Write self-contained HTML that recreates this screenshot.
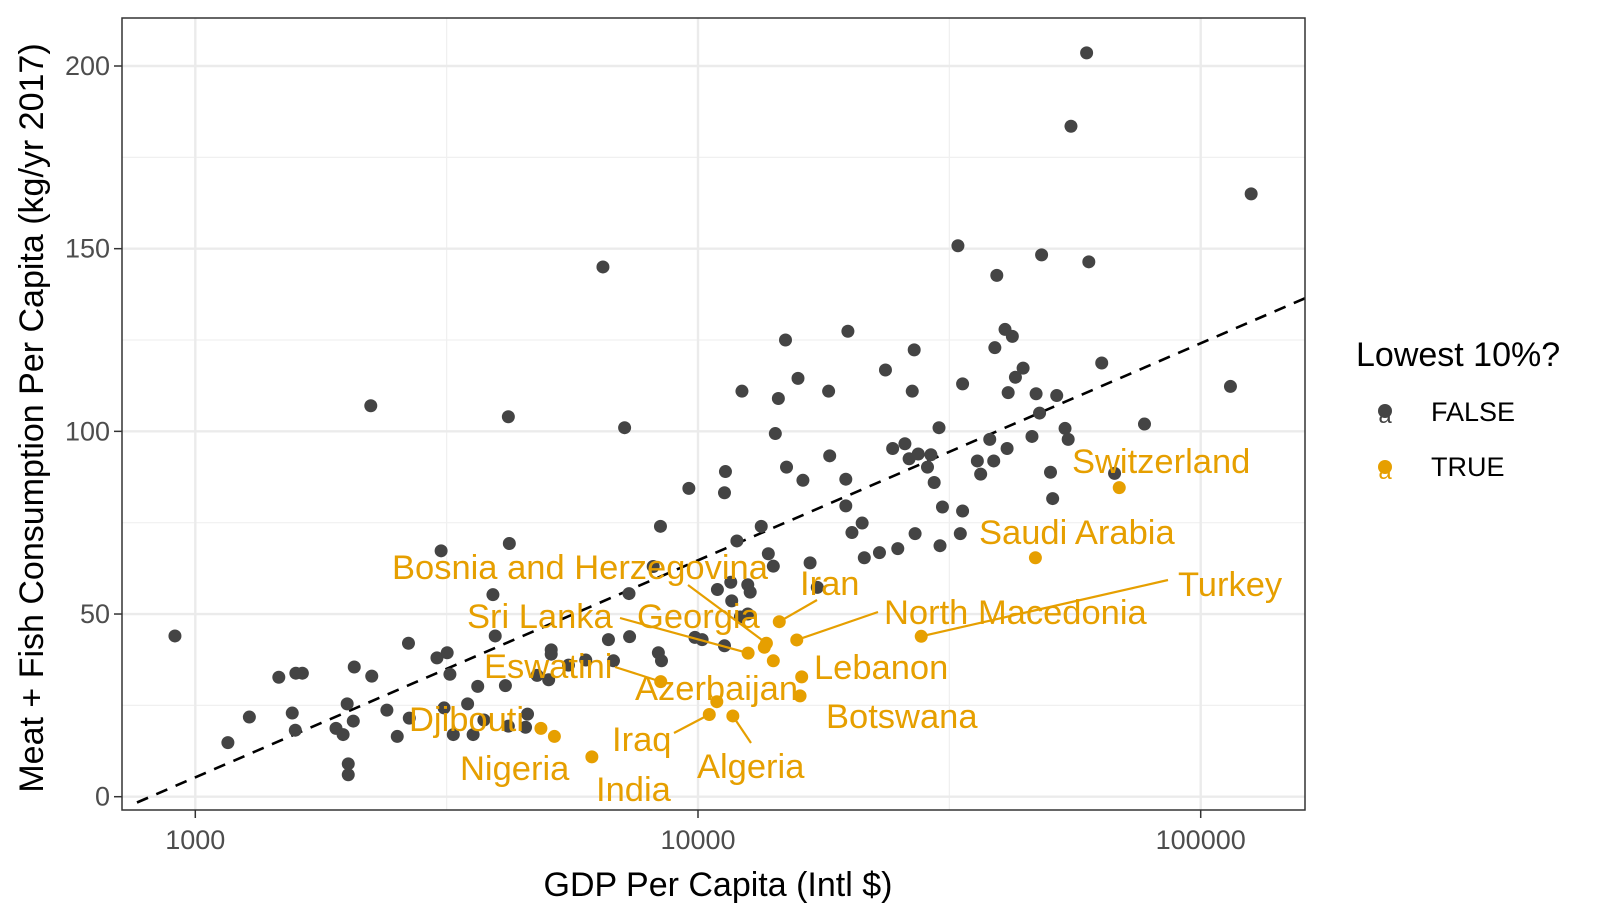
<!DOCTYPE html>
<html><head><meta charset="utf-8"><style>
body{margin:0;background:#fff;width:1600px;height:914px;overflow:hidden;font-family:"Liberation Sans",sans-serif}
</style></head><body>
<svg id="chart" width="1600" height="914" style="font-family:'Liberation Sans',sans-serif">
<rect x="0" y="0" width="1600" height="914" fill="#fff"/>
<g id="grid"></g><g id="marks"></g><g id="labels"></g>
<rect x="122" y="18" width="1183" height="792" fill="none" stroke="#333" stroke-width="1.5"/>
<g id="axes"></g>
<text x="718" y="896" text-anchor="middle" font-size="34" fill="#000">GDP Per Capita (Intl $)</text>
<text transform="translate(43,418) rotate(-90)" text-anchor="middle" font-size="34" fill="#000">Meat + Fish Consumption Per Capita (kg/yr 2017)</text>
<g>
<text x="1356" y="366" font-size="34" fill="#000">Lowest 10%?</text>
<g>
<text x="1385" y="423" font-size="24" fill="#444" text-anchor="middle">a</text>
<circle cx="1385" cy="411" r="7" fill="#444"/>
<text x="1431" y="421" font-size="27" fill="#000">FALSE</text></g>
<g>
<text x="1385" y="479" font-size="24" fill="#E69F00" text-anchor="middle">a</text>
<circle cx="1385" cy="467" r="7" fill="#E69F00"/>
<text x="1431" y="476" font-size="27" fill="#000">TRUE</text></g>
</g>
</svg>
<script>
const grayGdp=[911,1161,1281,1466,1559,1581,1585,1633,1905,1968,2015,2015,2005,2062,2071,2244,2234,2405,2522,2655,2665,3083,3025,3170,3125,3210,3260,3481,3570,3646,3750,3909,3950,4139,4195,4214,4195,4539,4580,4785,5105,5105,5046,5525,5980,6470,6635,6790,7145,7290,7310,8145,8340,8420,8460,9590,9860,10190,10930,11340,11290,11290,11670,11620,11950,12230,12140,12560,12560,12700,13360,13800,14120,14250,14450,14930,15000,15810,16170,16710,17270,18190,18280,19680,19870,19680,20240,21210,21420,22960,23600,24390,24970,25800,26300,26920,26680,27030,27420,28610,29060,29500,30160,30300,30640,32890,33250,33600,33600,35950,36500,38050,38750,38950,39300,40810,41200,41400,42200,42800,44330,46170,47050,47800,48250,50260,50760,51710,53720,54500,55200,59300,59900,63550,67400,77300,114600,126000];
const grayMeat=[44,14.8,21.8,32.7,22.9,18.2,33.8,33.8,18.7,17,9,6,25.4,20.7,35.5,33,107,23.7,16.5,42,21.5,67.3,38,39.4,24.3,33.5,17,25.4,17,30.2,21,55.3,44,30.4,104,69.3,19.3,19,22.6,33.2,40.2,39,32,36,37.4,145,43,37.2,101,55.6,43.8,63,39.4,74,37.2,84.4,43.6,43,56.7,89,83.2,41.3,53.6,58.7,70,111,49.2,50,58,56,74,66.5,63.1,99.4,109,125,90.2,114.5,86.6,64,57.3,111,93.3,86.9,127.4,79.6,72.3,74.9,65.4,66.8,116.8,95.3,67.9,96.6,92.5,122.3,111,72,93.8,90.2,93.6,86,101,68.7,79.3,150.8,72,113,78.2,91.9,88.3,97.8,91.9,122.9,142.7,127.9,95.3,110.6,126,114.8,117.3,98.6,110.3,105,148.3,88.8,81.6,109.8,100.8,97.8,183.5,203.6,146.4,118.7,88.5,102,112.3,165];
const lowNames=["Switzerland","Saudi Arabia","Turkey","North Macedonia","Iran","Lebanon","Botswana","Bosnia and Herzegovina","","Georgia","Sri Lanka","Eswatini","Azerbaijan","Iraq","Algeria","Djibouti","Nigeria","India"];
const lowGdp=[68860,46900,27800,15720,14510,16080,15960,13680,13550,14120,12580,8430,10900,10530,11730,4870,5180,6150];
const lowMeat=[84.6,65.4,43.9,42.9,47.9,32.8,27.6,42,40.9,37.2,39.3,31.5,26,22.5,22.1,18.7,16.5,10.9];
const fitIntercept=-172.9, fitSlope=59.4;
const xTicks=[1000,10000,100000];
const yTicks=[0,50,100,150,200];
// label layout (pixel placement of text, not data): [textX, textY(baseline), lineStartX, lineStartY or null]
const labelLayout=[[1072,473,null,null],[979,544,null,null],[1178,596,1168,580],[884,624,878,612],[800,595,817,600],[814,679,null,null],[826,728,null,null],[392,579,688,585],[0,0,null,null],[637,628,null,null],[467,628,620,618],[484,678,615,667],[635,700,null,null],[612,751,674,733],[697,778,751,743],[409,731,null,null],[460,780,null,null],[596,801,null,null]];

const X0=195.3, DEC=502.7, Y0=796.7, YU=3.6535, L=122, R=1305, T=18, B=810;
const xs=g=>X0+(Math.log10(g)-3)*DEC;
const ys=v=>Y0-v*YU;
const NS="http://www.w3.org/2000/svg";
function mk(tag,attrs,parent){const e=document.createElementNS(NS,tag);for(const k in attrs)e.setAttribute(k,attrs[k]);parent.appendChild(e);return e;}
const grid=document.getElementById('grid'),marks=document.getElementById('marks'),labels=document.getElementById('labels'),axes=document.getElementById('axes');
mk('rect',{x:L,y:T,width:R-L,height:B-T,fill:'#fff'},grid);
[3.5,4.5].forEach(l=>{const gl=mk('line',{x1:xs(Math.pow(10,l)),x2:xs(Math.pow(10,l)),y1:T,y2:B,stroke:'#f0f0f0','stroke-width':1.2},grid);

});
[25,75,125,175].forEach(v=>{const gl=mk('line',{x1:L,x2:R,y1:ys(v),y2:ys(v),stroke:'#f0f0f0','stroke-width':1.2},grid);

});
xTicks.forEach(t=>{const x=xs(t);
const gl=mk('line',{x1:x,x2:x,y1:T,y2:B,stroke:'#ebebeb','stroke-width':2.4},grid);


mk('line',{x1:x,x2:x,y1:B,y2:B+8,stroke:'#333','stroke-width':1.5},axes);
const tl=mk('text',{x:x,y:B+39,'text-anchor':'middle','font-size':27,fill:'#4d4d4d'},axes);tl.textContent=t;

});
yTicks.forEach(t=>{const y=ys(t);
const gl=mk('line',{x1:L,x2:R,y1:y,y2:y,stroke:'#ebebeb','stroke-width':2.4},grid);


mk('line',{x1:L-8,x2:L,y1:y,y2:y,stroke:'#333','stroke-width':1.5},axes);
const tl=mk('text',{x:L-12,y:y+9,'text-anchor':'end','font-size':27,fill:'#4d4d4d'},axes);tl.textContent=t;

});
const LS=137;
const lx0=Math.pow(10,3+(LS-X0)/DEC), lx1=Math.pow(10,3+(R-X0)/DEC);
const fl=mk('line',{x1:LS,y1:ys(fitIntercept+fitSlope*Math.log10(lx0)),x2:R,y2:ys(fitIntercept+fitSlope*Math.log10(lx1)),stroke:'#000','stroke-width':2.6,'stroke-dasharray':'12 9'},marks);


const cp=mk('clipPath',{id:'cp'},document.getElementById('chart'));mk('rect',{x:L,y:T,width:R-L,height:B-T},cp);
fl.setAttribute('clip-path','url(#cp)');
grayGdp.forEach((g,i)=>{const c=mk('circle',{cx:xs(g),cy:ys(grayMeat[i]),r:6.5,fill:'#444'},marks);

});
lowGdp.forEach((g,i)=>{const px=xs(g),py=ys(lowMeat[i]);const lay=labelLayout[i];
if(lowNames[i]&&lay[2]!==null){const ln=mk('line',{x1:lay[2],y1:lay[3],x2:px,y2:py,stroke:'#E69F00','stroke-width':2.2},labels);

}
const c=mk('circle',{cx:px,cy:py,r:6.5,fill:'#E69F00'},labels);


if(lowNames[i]){const t=mk('text',{x:lay[0],y:lay[1],'font-size':34.5,fill:'#E69F00'},labels);t.textContent=lowNames[i];

}
});
</script>
</body></html>
